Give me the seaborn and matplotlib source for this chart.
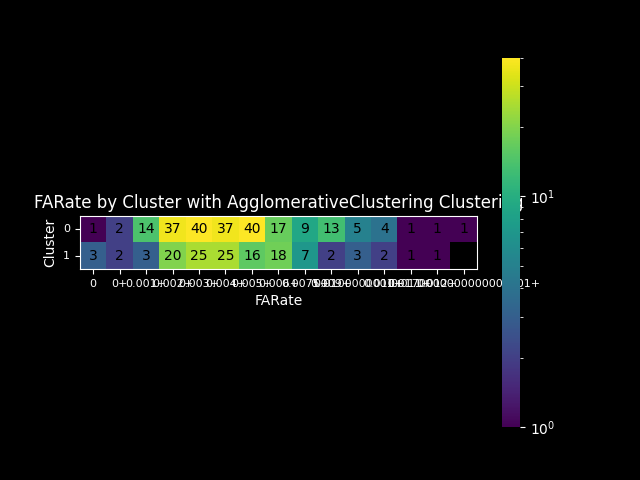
import numpy as np
import pandas as pd
import seaborn as sns
import matplotlib
matplotlib.use("Agg")
import matplotlib.pyplot as plt
from matplotlib.colors import LogNorm

# contagem de registros por faixa de FARate em cada cluster
far_bins = ['0', '0+', '0.001+', '0.002+', '0.003+', '0.004+', '0.005+', '0.006+',
            '0.0075+', '0.009+', '0.0100000001+', '0.010+', '0.011+',
            '0.012+', '0.0170000000000000001+']
clusters = [0, 1]
cluster_0 = [1, 2, 14, 37, 40, 37, 40, 17, 9, 13, 5, 4, 1, 1, 1]
cluster_1 = [3, 2, 3, 20, 25, 25, 16, 18, 7, 2, 3, 2, 1, 1, np.nan]

plt.style.use('dark_background')

tabela = pd.DataFrame([cluster_0, cluster_1], index=clusters, columns=far_bins)

fig, ax = plt.subplots(figsize=(6.4, 4.8), dpi=100)
sns.heatmap(tabela, ax=ax, cmap='viridis', norm=LogNorm(vmin=1, vmax=40),
            annot=True, fmt='g', annot_kws={'color': 'black', 'fontsize': 10},
            square=True, cbar=True)

# borda branca em volta do mapa
for s in ax.spines.values():
    s.set_visible(True)
    s.set_color('white')

ax.tick_params(labelsize=8, rotation=0)
ax.set_xlabel('FARate')
ax.set_ylabel('Cluster')
ax.set_title('FARate by Cluster with AgglomerativeClustering Clustering')

plt.savefig('out.png', dpi=100)
